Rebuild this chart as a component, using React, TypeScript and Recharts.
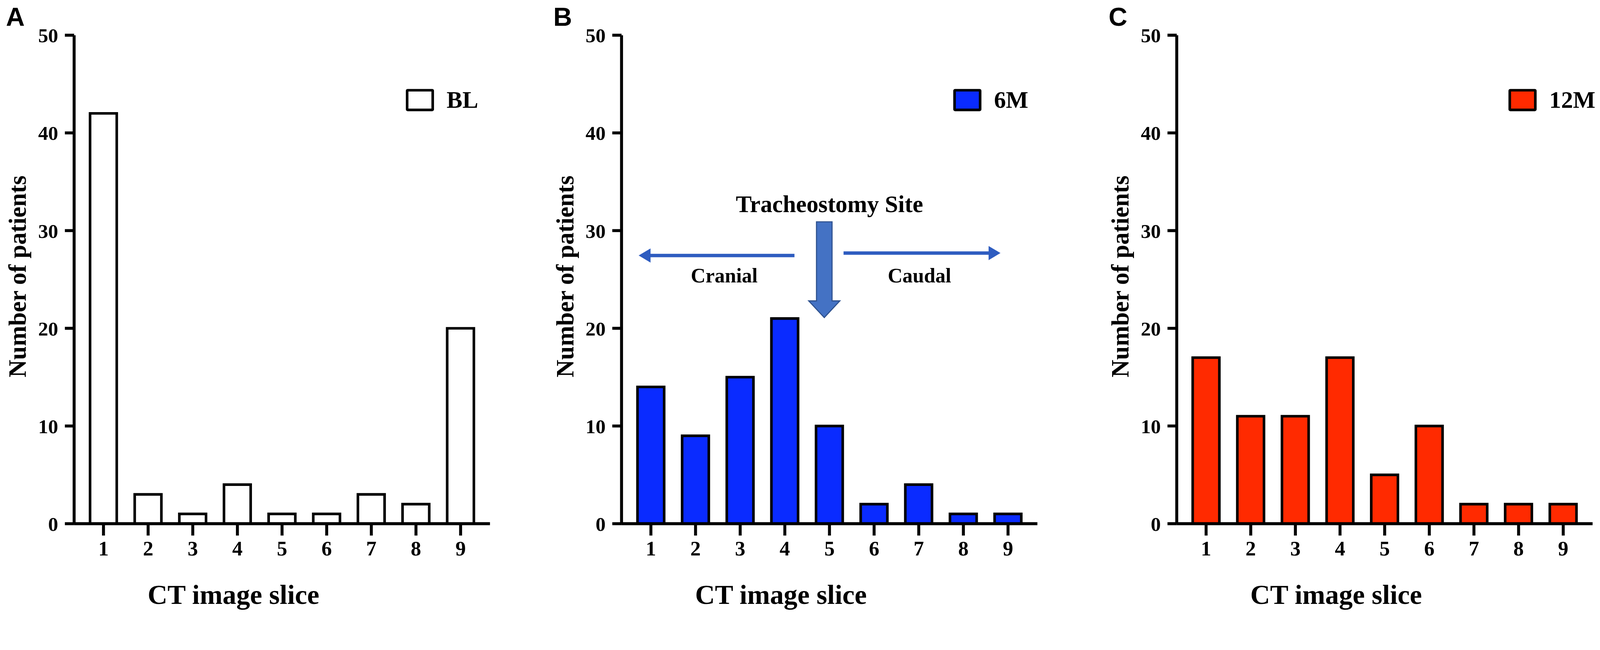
import React from 'react';
import { BarChart, Bar, XAxis, YAxis, Legend, ReferenceLine, ReferenceDot } from 'recharts';

const slices = ['1', '2', '3', '4', '5', '6', '7', '8', '9'];
const baselineCounts = [42, 3, 1, 4, 1, 1, 3, 2, 20];
const sixMonthCounts = [14, 9, 15, 21, 10, 2, 4, 1, 1];
const twelveMonthCounts = [17, 11, 11, 17, 5, 10, 2, 2, 2];
const yTicks = [0, 10, 20, 30, 40, 50];
const panelLetters = ['A', 'B', 'C'];
const legendLabels = ['BL', '6M', '12M'];

const SERIF = '"Liberation Serif", "Times New Roman", serif';
const SANS = '"Liberation Sans", Arial, sans-serif';

const toRows = (vals: number[]) => slices.map((s, i) => ({ slice: s, count: vals[i] }));

const PAGE_W = 4317;
const PAGE_H = 1664;
const CHART_W = 1342;
const CHART_H = 1664;

const xLabel = (props: any) => {
  const vb = props.viewBox || {};
  return (
    <text x={vb.x + 430} y={vb.y + 216} textAnchor="middle" fontFamily={SERIF} fontWeight={700} fontSize={74} fill="#000">
      CT image slice
    </text>
  );
};

const yLabel = (props: any) => {
  const vb = props.viewBox || {};
  const x = vb.x + 70;
  const y = vb.y + vb.height / 2 - 8;
  return (
    <text x={x} y={y} transform={`rotate(-90, ${x}, ${y})`} textAnchor="middle" fontFamily={SERIF} fontWeight={700} fontSize={66} fill="#000">
      Number of patients
    </text>
  );
};

function Panel({ left, data, fill, legendLabel, children }: any) {
  return (
    <div style={{ position: 'absolute', left, top: 0, width: CHART_W, height: CHART_H }}>
      <BarChart width={CHART_W} height={CHART_H} data={data} margin={{ top: 95, right: 20, left: 0, bottom: 0 }}>
        <XAxis
          dataKey="slice"
          height={251}
          interval={0}
          padding={{ left: 19, right: 19 }}
          axisLine={{ stroke: '#000', strokeWidth: 8 }}
          tickLine={{ stroke: '#000', strokeWidth: 8 }}
          tickSize={32}
          tickMargin={14}
          tick={{ fill: '#000', fontSize: 56, fontWeight: 700, fontFamily: SERIF }}
          label={xLabel}
        />
        <YAxis
          type="number"
          domain={[0, 50]}
          ticks={yTicks}
          width={200}
          interval={0}
          axisLine={{ stroke: '#000', strokeWidth: 8 }}
          tickLine={{ stroke: '#000', strokeWidth: 8 }}
          tickSize={25}
          tickMargin={18}
          tick={{ fill: '#000', fontSize: 54, fontWeight: 700, fontFamily: SERIF }}
          label={yLabel}
        />
        <Bar dataKey="count" fill={fill} stroke="#000" strokeWidth={7} barSize={72} isAnimationActive={false} />
        <Legend
          layout="horizontal"
          verticalAlign="middle"
          align="center"
          wrapperStyle={{ top: 238, left: 1095, width: 240 }}
          content={() => (
            <div style={{ display: 'flex', alignItems: 'center' }}>
              <div style={{ width: 62, height: 46, border: '7px solid #000', borderRadius: 5, background: fill }} />
              <span style={{ marginLeft: 34, fontFamily: SERIF, fontWeight: 700, fontSize: 64, lineHeight: 1, color: '#000' }}>
                {legendLabel}
              </span>
            </div>
          )}
        />
        {children}
      </BarChart>
    </div>
  );
}

const annotText = (dx: number, size: number, label: string) => (p: any) => (
  <text x={p.cx + dx} y={p.cy} textAnchor="middle" fontFamily={SERIF} fontWeight={700} fontSize={size} fill="#000">
    {label}
  </text>
);

const downArrow = (p: any) => {
  const cx = p.x1 - 14;
  const top = p.y1;
  const tip = p.y2;
  const sw = 21;
  const hw = 42;
  const hl = 45;
  const pts = [
    [cx - sw, top], [cx + sw, top], [cx + sw, tip - hl], [cx + hw, tip - hl],
    [cx, tip], [cx - hw, tip - hl], [cx - sw, tip - hl],
  ].map((q) => q.join(',')).join(' ');
  return <polygon points={pts} fill="#4472C4" stroke="#2F528F" strokeWidth={3} />;
};

const ARROW_BLUE = '#2E5CC0';
const leftArrow = (p: any) => {
  const tip = p.x1 - 33;
  const tail = p.x2 + 26;
  const y = p.y1;
  return (
    <g>
      <line x1={tail} y1={y} x2={tip + 28} y2={y} stroke={ARROW_BLUE} strokeWidth={9} />
      <polygon points={`${tip},${y} ${tip + 32},${y - 19} ${tip + 32},${y + 19}`} fill={ARROW_BLUE} />
    </g>
  );
};
const rightArrow = (p: any) => {
  const tail = p.x1 + 38;
  const tip = p.x2 + 100;
  const y = p.y1;
  return (
    <g>
      <line x1={tail} y1={y} x2={tip - 28} y2={y} stroke={ARROW_BLUE} strokeWidth={9} />
      <polygon points={`${tip},${y} ${tip - 32},${y - 19} ${tip - 32},${y + 19}`} fill={ARROW_BLUE} />
    </g>
  );
};

const panelLefts = [0, 1477, 2975];

const fitScale = () =>
  typeof window === 'undefined' ? 1 : Math.min(window.innerWidth / PAGE_W, window.innerHeight / PAGE_H, 1);

export default function App() {
  const [scale, setScale] = React.useState(fitScale);
  React.useEffect(() => {
    const f = () => setScale(fitScale());
    f();
    window.addEventListener('resize', f);
    return () => window.removeEventListener('resize', f);
  }, []);
  return (
    <div style={{ width: PAGE_W * scale, height: PAGE_H * scale, overflow: 'hidden', background: '#fff' }}>
      <style>{'html,body{margin:0;padding:0;overflow:hidden;background:#fff;}'}</style>
      <div
        style={{
          position: 'relative',
          width: PAGE_W,
          height: PAGE_H,
          background: '#fff',
          transform: `scale(${scale})`,
          transformOrigin: '0 0',
        }}
      >
        <Panel left={panelLefts[0]} data={toRows(baselineCounts)} fill="#ffffff" legendLabel={legendLabels[0]} />
        <Panel left={panelLefts[1]} data={toRows(sixMonthCounts)} fill="#0A2BFF" legendLabel={legendLabels[1]}>
          <ReferenceDot x="5" y={31.9} r={0} ifOverflow="visible" shape={annotText(0, 64, 'Tracheostomy Site')} />
          <ReferenceDot x="3" y={24.7} r={0} ifOverflow="visible" shape={annotText(-43, 55, 'Cranial')} />
          <ReferenceDot x="7" y={24.7} r={0} ifOverflow="visible" shape={annotText(2, 55, 'Caudal')} />
          <ReferenceLine segment={[{ x: '5', y: 30.9 }, { x: '5', y: 21.1 }]} ifOverflow="visible" shape={downArrow} />
          <ReferenceLine segment={[{ x: '1', y: 27.45 }, { x: '4', y: 27.45 }]} ifOverflow="visible" shape={leftArrow} />
          <ReferenceLine segment={[{ x: '5', y: 27.7 }, { x: '8', y: 27.7 }]} ifOverflow="visible" shape={rightArrow} />
        </Panel>
        <Panel left={panelLefts[2]} data={toRows(twelveMonthCounts)} fill="#FF2A00" legendLabel={legendLabels[2]} />
        <svg width={PAGE_W} height={PAGE_H} style={{ position: 'absolute', left: 0, top: 0, pointerEvents: 'none' }}>
          {panelLetters.map((l, i) => (
            <text key={l} x={panelLefts[i] + 16} y={70} fontFamily={SANS} fontWeight={700} fontSize={70} fill="#000">
              {l}
            </text>
          ))}
        </svg>
      </div>
    </div>
  );
}
